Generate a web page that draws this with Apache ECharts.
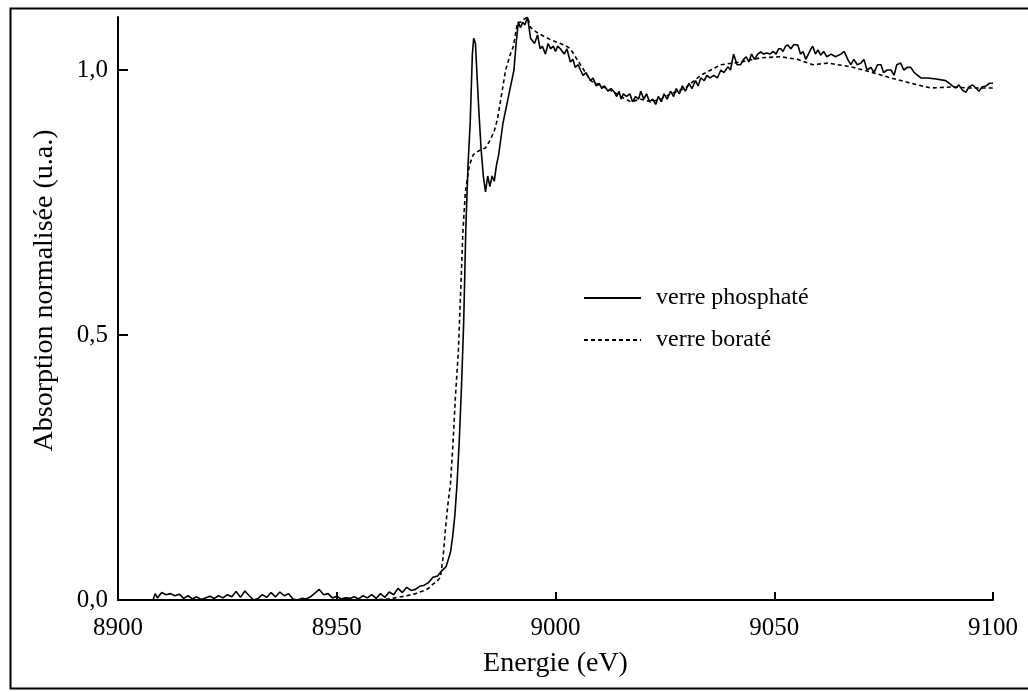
<!DOCTYPE html>
<html>
<head>
<meta charset="utf-8">
<script src="https://cdn.jsdelivr.net/npm/echarts@6/dist/echarts.min.js"></script>
<style>html,body{margin:0;padding:0;background:#fff}#c{width:1028px;height:692px}</style>
</head>
<body>
<div id="c"></div>
<script>
// ---- data ----
const seriesNames = ['verre phosphaté', 'verre boraté'];
const xTitle = 'Energie (eV)';
const yTitle = 'Absorption normalisée (u.a.)';
const yTickValues = [0, 0.5, 1.0];
const yTickLabels = ['0,0', '0,5', '1,0'];
const xTickValues = [8900, 8950, 9000, 9050, 9100];
const xTickLabels = ['8900', '8950', '9000', '9050', '9100'];

// verre phosphaté (solid)
const phosE = [8900,8902,8904,8906,8908,8908.5,8909,8910,8911,8912,8913,8914,8915,8916,8917,8918,8919,8920,8921,8922,8923,8924,8925,8926,8927,8928,8929,8930,8931,8932,8933,8934,8935,8936,8937,8938,8939,8940,8941,8942,8943,8944,8945,8946,8947,8948,8949,8950,8951,8952,8953,8954,8955,8956,8957,8958,8959,8960,8961,8962,8963,8964,8965,8966,8967,8968,8969,8970,8971,8972,8973,8974,8975,8976,8976.5,8977,8977.5,8978,8978.5,8979,8979.5,8980,8980.5,8981,8981.3,8981.7,8982,8982.5,8983,8983.5,8984,8984.5,8985,8985.5,8986,8986.5,8987,8987.5,8988,8988.5,8989,8989.5,8990,8990.5,8991,8991.5,8992,8992.5,8993,8993.6,8994.3,8995.2,8995.9,8996.5,8997,8997.7,8998.3,8998.9,8999.5,9000,9000.5,9001.1,9002,9002.6,9003.4,9004,9004.5,9005.2,9005.7,9006.3,9007,9008,9008.6,9009.3,9010,9010.6,9011.2,9012,9012.7,9013.3,9014,9014.5,9015,9015.5,9016.2,9017,9017.6,9018.3,9019,9019.5,9020.2,9020.8,9021.5,9022.2,9022.9,9023.5,9024.2,9024.8,9025.5,9026.3,9027,9027.6,9028.3,9029,9029.7,9030.5,9031.2,9032,9032.6,9033.2,9034,9034.6,9035.3,9036.2,9037,9037.8,9038.5,9039.4,9040,9040.7,9041.5,9042.3,9043,9043.6,9044.2,9044.8,9045.5,9046.2,9046.9,9047.6,9048.3,9049,9049.8,9050.4,9051,9051.5,9052,9052.6,9053.1,9053.8,9054.5,9055.4,9056,9056.6,9057.2,9057.8,9058.4,9058.8,9059.4,9060,9060.6,9061.3,9062,9063,9064,9065.2,9066,9066.8,9067.5,9068.2,9069,9069.8,9070.5,9071.2,9072.1,9072.8,9073.6,9074.4,9075,9075.8,9076.7,9077.4,9078,9078.9,9079.6,9080.4,9081.2,9082,9082.8,9083.5,9085,9087,9089.2,9090,9090.7,9091.5,9092.2,9093,9093.8,9094.5,9095.3,9096.1,9096.8,9097.5,9098.4,9099.2,9100];
const phosA = [0,0,0,0,0,0.012,0.004,0.014,0.01,0.012,0.008,0.011,0.003,0.008,0.002,0.006,0.001,0.004,0.007,0.003,0.008,0.004,0.01,0.006,0.016,0.005,0.017,0.008,0,0.003,0.01,0.005,0.014,0.006,0.015,0.008,0.012,0.002,0,0.003,0.002,0.006,0.013,0.02,0.01,0.012,0.004,0.007,0.002,0.004,0.003,0.006,0.002,0.008,0.004,0.01,0.003,0.012,0.005,0.015,0.01,0.022,0.014,0.024,0.018,0.02,0.026,0.028,0.033,0.043,0.045,0.055,0.063,0.09,0.12,0.16,0.22,0.3,0.4,0.52,0.7,0.82,0.9,1.03,1.06,1.05,1.0,0.92,0.85,0.8,0.77,0.8,0.78,0.8,0.79,0.82,0.84,0.87,0.9,0.92,0.94,0.96,0.98,1.0,1.05,1.09,1.08,1.09,1.085,1.1,1.06,1.05,1.066,1.04,1.045,1.03,1.05,1.04,1.045,1.035,1.045,1.04,1.03,1.04,1.015,1.02,1.005,1.01,1.0,0.99,0.995,0.98,0.985,0.97,0.975,0.965,0.97,0.96,0.965,0.96,0.95,0.96,0.945,0.955,0.95,0.955,0.94,0.95,0.945,0.96,0.945,0.955,0.94,0.945,0.935,0.95,0.94,0.955,0.945,0.96,0.95,0.965,0.955,0.97,0.96,0.975,0.965,0.98,0.97,0.985,0.98,0.99,0.985,0.99,0.985,1.0,0.995,1.006,1.0,1.03,1.01,1.01,1.02,1.025,1.015,1.03,1.02,1.03,1.034,1.03,1.032,1.03,1.035,1.03,1.04,1.04,1.035,1.045,1.047,1.04,1.048,1.047,1.03,1.035,1.02,1.03,1.04,1.045,1.03,1.038,1.028,1.035,1.025,1.03,1.025,1.03,1.035,1.02,1.01,1.02,1.01,1.013,1.02,1.0,1.005,0.995,1.01,1.01,0.995,1.0,1.0,0.99,1.01,1.013,1.0,1.005,1.005,0.995,0.99,0.985,0.985,0.983,0.98,0.975,0.97,0.966,0.972,0.962,0.958,0.968,0.972,0.966,0.96,0.968,0.97,0.975,0.975];

// verre boraté (dashed)
const borE = [8958,8962,8964,8966,8968,8970,8971,8972,8973,8973.7,8974.3,8974.8,8975.4,8976,8976.6,8977.1,8977.8,8978.5,8978.8,8979.4,8980.3,8981.2,8982,8983,8984,8985.1,8986,8986.7,8987.4,8988,8988.6,8989.7,8990.4,8991.3,8992,8992.6,8993.6,8994.3,8995.9,8997,8998.9,9001.1,9002.5,9003.4,9005.7,9008,9010.3,9012,9014.9,9017.2,9019.5,9021.7,9024,9026.3,9029.7,9033.2,9037.8,9042.3,9046.9,9051.5,9055.4,9058.8,9062.3,9067.5,9072.1,9076.7,9081.2,9085.8,9090.4,9095,9100];
const borA = [0,0.002,0.005,0.008,0.012,0.018,0.022,0.03,0.036,0.043,0.08,0.13,0.18,0.22,0.3,0.38,0.47,0.62,0.69,0.77,0.82,0.84,0.845,0.85,0.853,0.868,0.885,0.906,0.94,0.97,1.0,1.03,1.045,1.09,1.09,1.095,1.1,1.08,1.07,1.065,1.057,1.05,1.045,1.04,1.01,0.98,0.97,0.965,0.95,0.94,0.945,0.94,0.945,0.955,0.966,0.99,1.01,1.015,1.023,1.025,1.02,1.01,1.013,1.006,0.996,0.985,0.975,0.966,0.968,0.966,0.966];

const zip = (a, b) => a.map((v, i) => [v, b[i]]);
const font = 'Liberation Serif';
const pick = (vals, labs) => v => { const i = vals.findIndex(t => Math.abs(t - v) < 1e-9); return i >= 0 ? labs[i] : ''; };

const chart = echarts.init(document.getElementById('c'), null, {renderer: 'canvas'});
chart.setOption({
  animation: false,
  backgroundColor: '#fff',
  graphic: [{
    type: 'rect', left: 8, top: 6, z: 100, silent: true,
    shape: {width: 1040, height: 680},
    style: {fill: 'none', stroke: '#000', lineWidth: 2}
  }],
  grid: {left: 118, right: 35, top: 17, bottom: 92},
  legend: {
    left: 583, top: 286, padding: 0, orient: 'vertical', itemWidth: 57, itemHeight: 24, itemGap: 18,
    textStyle: {fontFamily: font, fontSize: 24, color: '#000', padding: [0, 0, 0, 10]},
    itemStyle: {opacity: 0},
    data: seriesNames
  },
  xAxis: {
    type: 'value', min: 8900, max: 9100, interval: 50,
    name: xTitle, nameLocation: 'middle', nameGap: 50,
    nameTextStyle: {fontFamily: font, fontSize: 28, color: '#000'},
    axisLine: {lineStyle: {color: '#000', width: 2}},
    axisTick: {inside: true, length: 8, lineStyle: {color: '#000', width: 2}, customValues: xTickValues.slice(1)},
    axisLabel: {fontFamily: font, fontSize: 25, color: '#000', margin: 16, customValues: xTickValues, formatter: pick(xTickValues, xTickLabels)},
    splitLine: {show: false}
  },
  yAxis: {
    type: 'value', min: 0, max: 1.1, interval: 0.5,
    name: yTitle, nameLocation: 'middle', nameGap: 59,
    nameTextStyle: {fontFamily: font, fontSize: 28, color: '#000', padding: [0, 0, 0, 36]},
    axisLine: {show: true, lineStyle: {color: '#000', width: 2}},
    axisTick: {show: true, inside: true, length: 10, lineStyle: {color: '#000', width: 2}, customValues: yTickValues.slice(1)},
    axisLabel: {fontFamily: font, fontSize: 25, color: '#000', margin: 10, customValues: yTickValues, formatter: pick(yTickValues, yTickLabels)},
    splitLine: {show: false}
  },
  series: [
    {
      name: seriesNames[0], type: 'line', data: zip(phosE, phosA), showSymbol: false, symbol: 'none',
      lineStyle: {color: '#000', width: 1.6, type: 'solid'}, itemStyle: {color: '#000'}, z: 3
    },
    {
      name: seriesNames[1], type: 'line', data: zip(borE, borA), showSymbol: false, symbol: 'none',
      lineStyle: {color: '#000', width: 1.6, type: [4, 3]}, itemStyle: {color: '#000'}, z: 2
    }
  ]
});
</script>
</body>
</html>
